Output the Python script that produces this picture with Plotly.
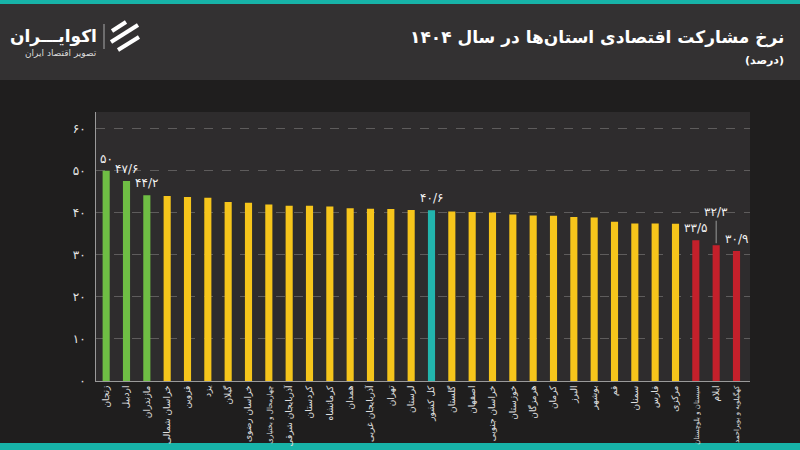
import plotly.graph_objects as go

# ---------------- data ----------------
provinces = [
    "زنجان", "اردبیل", "مازندران", "خراسان شمالی", "قزوین", "یزد", "گیلان",
    "خراسان رضوی", "چهارمحال و بختیاری", "آذربایجان شرقی", "کردستان", "کرمانشاه",
    "همدان", "آذربایجان غربی", "تهران", "لرستان", "کل کشور", "گلستان", "اصفهان",
    "خراسان جنوبی", "خوزستان", "هرمزگان", "کرمان", "البرز", "بوشهر", "قم",
    "سمنان", "فارس", "مرکزی", "سیستان و بلوچستان", "ایلام", "کهگیلویه و بویراحمد",
]
values = [
    50.0, 47.6, 44.2, 44.0, 43.8, 43.6, 42.6,
    42.4, 42.0, 41.7, 41.7, 41.5,
    41.1, 41.0, 40.9, 40.7, 40.6, 40.3, 40.2,
    40.1, 39.6, 39.4, 39.3, 39.0, 38.9, 37.9,
    37.5, 37.5, 37.4, 33.5, 32.3, 30.9,
]
groups = (["high"] * 3 + ["mid"] * 13 + ["national"] + ["mid"] * 12 + ["low"] * 3)
labeled = {
    "زنجان": "۵۰", "اردبیل": "۴۷/۶", "مازندران": "۴۴/۲", "کل کشور": "۴۰/۶",
    "سیستان و بلوچستان": "۳۳/۵", "ایلام": "۳۲/۳", "کهگیلویه و بویراحمد": "۳۰/۹",
}
y_tickvals = [0, 10, 20, 30, 40, 50, 60]
y_ticktext = ["۰", "۱۰", "۲۰", "۳۰", "۴۰", "۵۰", "۶۰"]

title_text = "نرخ مشارکت اقتصادی استان‌ها در سال ۱۴۰۴"
subtitle_text = "(درصد)"
brand_text = "اکوایـــران"
brand_sub = "تصویر اقتصاد ایران"

# ---------------- styles ----------------
FONT = "DejaVu Sans"
group_colors = {"high": "#6fbe44", "mid": "#f6c51b", "national": "#22b5ad", "low": "#c4202b"}
bar_colors = [group_colors[g] for g in groups]

W, H = 800, 450
ML, MR, MT, MB = 96, 50, 112, 69
PW, PH = W - ML - MR, H - MT - MB


def px(x):
    return (x - ML) / PW


def py(y):
    return (H - MB - y) / PH


def tick_label(name):
    # long names are set in a smaller size so that they fit above the bottom strip
    if len(name) > 15:
        return '<span style="font-size:7px">' + name + "</span>"
    return name


fig = go.Figure()
fig.add_trace(go.Bar(
    x=provinces, y=values, marker=dict(color=bar_colors, line=dict(width=0)),
    hoverinfo="skip",
))

annotations = []
for name, txt in labeled.items():
    v = values[provinces.index(name)]
    if name == "ایلام":
        annotations.append(dict(
            x=name, y=v, xref="x", yref="y", text=txt, showarrow=True,
            arrowhead=0, arrowwidth=1, arrowcolor="#9a9a9a", ax=0, ay=-33,
            standoff=2, font=dict(family=FONT, size=12, color="#f2f2f2"),
        ))
    else:
        annotations.append(dict(
            x=name, y=v, xref="x", yref="y", text=txt, showarrow=False,
            yanchor="middle", yshift=12,
            font=dict(family=FONT, size=12, color="#f2f2f2"),
        ))

# title & subtitle
annotations.append(dict(
    x=px(786), y=py(37), xref="paper", yref="paper", xanchor="right", yanchor="middle",
    text="<b>" + title_text + "</b>", showarrow=False,
    font=dict(family=FONT, size=17, color="#ffffff"),
))
annotations.append(dict(
    x=px(786), y=py(61), xref="paper", yref="paper", xanchor="right", yanchor="middle",
    text="<b>" + subtitle_text + "</b>", showarrow=False,
    font=dict(family=FONT, size=11, color="#ffffff"),
))
# brand
annotations.append(dict(
    x=px(99), y=py(36), xref="paper", yref="paper", xanchor="right", yanchor="middle",
    text="<b>" + brand_text + "</b>", showarrow=False,
    font=dict(family=FONT, size=17, color="#ffffff"),
))
annotations.append(dict(
    x=px(99), y=py(53), xref="paper", yref="paper", xanchor="right", yanchor="middle",
    text=brand_sub, showarrow=False,
    font=dict(family=FONT, size=9, color="#dddddd"),
))

shapes = [
    # header band
    dict(type="rect", xref="paper", yref="paper", x0=px(0), x1=px(W), y0=py(80), y1=py(4),
         fillcolor="#333132", line=dict(width=0), layer="below"),
    # top teal strip
    dict(type="rect", xref="paper", yref="paper", x0=px(0), x1=px(W), y0=py(4), y1=py(0),
         fillcolor="#17b3a8", line=dict(width=0), layer="below"),
    # bottom teal strip
    dict(type="rect", xref="paper", yref="paper", x0=px(0), x1=px(W), y0=py(H), y1=py(443),
         fillcolor="#17b3a8", line=dict(width=0), layer="below"),
    # brand separator
    dict(type="line", xref="paper", yref="paper", x0=px(104), x1=px(104), y0=py(24), y1=py(49),
         line=dict(color="#aaaaaa", width=1)),
]
# logo swooshes
for (x0, y0, x1, y1) in [(112, 31, 126, 22), (111, 42, 138, 25), (118, 50, 139, 37)]:
    shapes.append(dict(type="line", xref="paper", yref="paper",
                       x0=px(x0), y0=py(y0), x1=px(x1), y1=py(y1),
                       line=dict(color="#ffffff", width=4)))

fig.update_layout(
    width=W, height=H,
    margin=dict(l=ML, r=MR, t=MT, b=MB, pad=0, autoexpand=False),
    paper_bgcolor="#1f1e1e", plot_bgcolor="#2e2c2d",
    showlegend=False, bargap=0.65,
    font=dict(family=FONT, color="#e6e6e6"),
    annotations=annotations, shapes=shapes,
    xaxis=dict(
        type="category", tickangle=-90, showgrid=False, showline=True,
        linecolor="#9a9a9a", linewidth=1, ticks="", fixedrange=True,
        automargin=False,
        tickmode="array", tickvals=provinces,
        ticktext=[tick_label(p) for p in provinces],
        tickfont=dict(family=FONT, size=9, color="#e0e0e0"),
    ),
    yaxis=dict(
        range=[0, 64], tickvals=y_tickvals, ticktext=y_ticktext,
        showgrid=True, gridcolor="#5e5c5c", griddash="dash", gridwidth=1,
        showline=True, linecolor="#9a9a9a", linewidth=1, zeroline=False,
        ticks="outside", ticklen=7, tickcolor="rgba(0,0,0,0)", automargin=False,
        tickfont=dict(family=FONT, size=12, color="#e6e6e6"),
    ),
)

fig.write_html("out.html")
